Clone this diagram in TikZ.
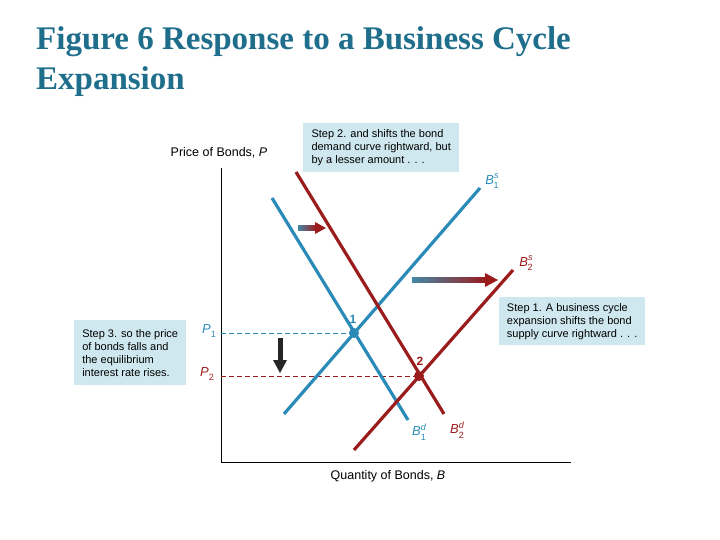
\documentclass[tikz,border=0pt]{standalone}
\usepackage{fontspec}
\setmainfont{Liberation Sans}
\newfontfamily\titlefont{Liberation Serif}
\usetikzlibrary{arrows.meta}
\definecolor{cblue}{HTML}{2A8BB8}
\definecolor{cred}{HTML}{9B1C1C}
\definecolor{boxbg}{HTML}{CFE8EF}
\definecolor{ttl}{HTML}{1F6E8C}
\newcommand{\sub}[1]{\raisebox{-0.35em}{\fontsize{9}{10}\selectfont\upshape #1}}
\newcommand{\supr}[1]{\raisebox{0.45em}{\fontsize{9}{10}\selectfont #1}}
\begin{document}
\begin{tikzpicture}[x=1pt,y=-1pt,
  curve/.style={line width=3.2pt},
  stepbox/.style={fill=boxbg,font=\fontsize{11}{13}\selectfont,align=left,inner sep=5pt,anchor=north west},
  lab/.style={font=\fontsize{13}{15}\selectfont\itshape,inner sep=1pt},
  axlab/.style={font=\fontsize{12.5}{14}\selectfont},
  dashline/.style={dash pattern=on 5pt off 3pt,line width=0.8pt}]
\useasboundingbox (0,0) rectangle (720,540);
\node[anchor=north west,text=ttl,font=\titlefont\bfseries\fontsize{33}{40}\selectfont,align=left,inner sep=0] (title) at (36,26) {Figure 6 Response to a Business Cycle\\Expansion};
% axes
\coordinate (o) at (221,462);
\coordinate (ytop) at (221,168);
\coordinate (xend) at (571,462);
\draw[line width=0.8pt] (ytop) -- (o) -- (xend);
\node[axlab] (ylab) at (219,153) {Price of Bonds, \textit{P}};
\node[axlab] (xlab) at (388,476) {Quantity of Bonds, \textit{B}};
% points
\coordinate (e1) at (354,333);
\coordinate (e2) at (419,376);
\coordinate (q1) at (221,333);
\coordinate (q2) at (221,376);
\draw[cblue,dashline] (q1) -- (e1);
\draw[cred,dashline] (q2) -- (e2);
% curves
\coordinate (s1a) at (284,414); \coordinate (s1b) at (480,188);
\coordinate (s2a) at (354,450); \coordinate (s2b) at (513,270);
\coordinate (d1a) at (272,198); \coordinate (d1b) at (408,420);
\coordinate (d2a) at (296,172); \coordinate (d2b) at (444,414);
\draw[curve,cblue] (s1a) -- (s1b);
\draw[curve,cblue] (d1a) -- (d1b);
\draw[curve,cred] (s2a) -- (s2b);
\draw[curve,cred] (d2a) -- (d2b);
\fill[cblue] (e1) circle (5pt);
\fill[cred] (e2) circle (5pt);
\node[font=\bfseries\fontsize{12}{14}\selectfont,text=cblue] (n1) at (353,319) {1};
\node[font=\bfseries\fontsize{12}{14}\selectfont,text=cred] (n2) at (420,361) {2};
% labels
\node[lab,text=cblue] (p1) at (209,331) {P\sub{1}};
\node[lab,text=cred] (p2) at (207,374) {P\sub{2}};
\node[lab,text=cblue] (b1s) at (492,181) {B\supr{\itshape s}\llap{\sub{1}}};
\node[lab,text=cred] (b2s) at (526,263) {B\supr{\itshape s}\llap{\sub{2}}};
\node[lab,text=cblue] (b1d) at (419,432) {B\supr{\itshape d}\llap{\sub{1}}};
\node[lab,text=cred] (b2d) at (457,430) {B\supr{\itshape d}\llap{\sub{2}}};
% arrows
\shade[left color=cblue!70!gray,right color=cred] (298,225.5) rectangle (316,230.5);
\fill[cred] (315,222) -- (326,228) -- (315,234) -- cycle;
\shade[left color=cblue!70!gray,right color=cred] (412,277.5) rectangle (486,282.5);
\fill[cred] (485,273) -- (498,280) -- (485,287) -- cycle;
\fill[black!85] (277.5,338) rectangle (282.5,362);
\fill[black!85] (273,360) -- (280,373) -- (287,360) -- cycle;
% boxes
\node[stepbox,minimum width=156pt,minimum height=49pt] (step2) at (303,123) {Step 2. and shifts the bond\\demand curve rightward, but\\by a lesser amount . . .};
\node[stepbox,minimum width=146pt,minimum height=48pt] (step1) at (499,297) {Step 1. A business cycle\\expansion shifts the bond\\supply curve rightward . . .};
\node[stepbox,minimum width=112pt,minimum height=65pt,inner sep=4pt] (step3) at (74,320) {Step 3. so the price\\of bonds falls and\\the equilibrium\\interest rate rises.};
\end{tikzpicture}
\end{document}
